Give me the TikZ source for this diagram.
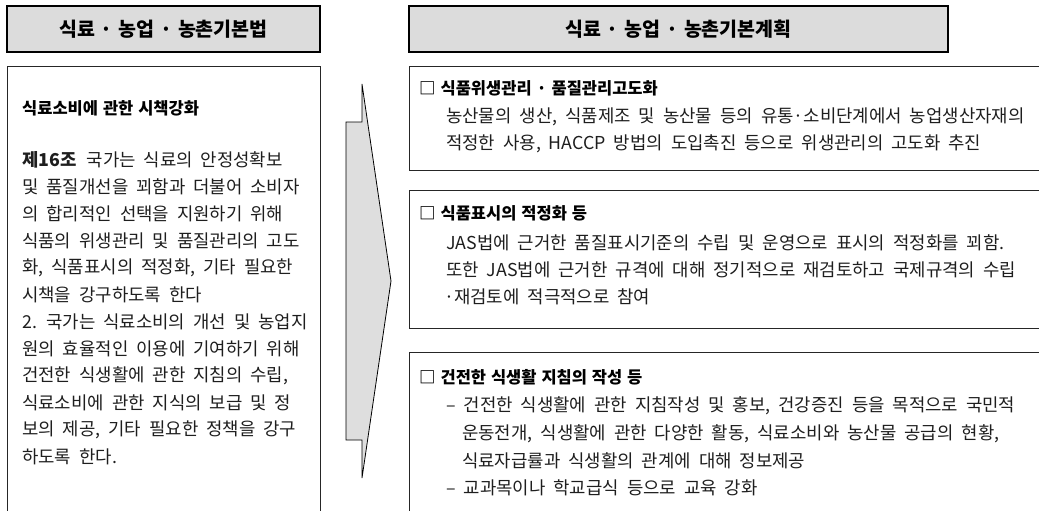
\documentclass[tikz,border=0pt]{standalone}
\usepackage{fontspec}
\setmainfont{Noto Sans CJK KR}[WordSpace=2.0]
\newfontfamily\hdrfont{Noto Sans CJK KR}[WordSpace=1.3]
\definecolor{hdrgray}{HTML}{DCDCDC}
\definecolor{arrgray}{HTML}{DEDEDE}
\definecolor{txt}{HTML}{1E1E1E}
\begin{document}
\begin{tikzpicture}[x=1pt,y=-1pt]
\useasboundingbox (0,0) rectangle (1039,511);
\clip (0,0) rectangle (1039,511);
\tikzset{
  hdr/.style={draw=black, line width=1.6pt, fill=hdrgray, minimum height=46pt, inner sep=0pt,
    font=\hdrfont\fontsize{19.5}{21}\selectfont\bfseries},
  panel/.style={draw=black!85, line width=1pt, inner sep=0pt, anchor=north west},
  body/.style={anchor=west, inner sep=0pt, text=txt, font=\fontsize{17.8}{20}\selectfont},
  head/.style={anchor=west, inner sep=0pt, text=black, font=\hdrfont\fontsize{16.5}{19}\selectfont\bfseries},
  arrowshape/.style={draw=black, line width=0.8pt, fill=arrgray, line join=miter},
}
% headers
\node[hdr, minimum width=313pt] (hL) at (163.5,29) {식료 · 농업 · 농촌기본법};
\node[hdr, minimum width=539pt] (hR) at (678.5,29) {식료 · 농업 · 농촌기본계획};
% panels
\node[panel, minimum width=313pt, minimum height=470pt] (pL) at (7,66) {};
\node[panel, minimum width=640pt, minimum height=104pt] (b1) at (409,66) {};
\node[panel, minimum width=640pt, minimum height=138pt] (b2) at (409,190) {};
\node[panel, minimum width=640pt, minimum height=180pt] (b3) at (409,352) {};
% big arrow
\draw[arrowshape] (346,122) -- (362,122) -- (362,84) -- (391,281) -- (362,478) -- (362,440) -- (346,440) -- cycle;
% left text
\node[head] (lt) at (22,108) {식료소비에 관한 시책강화};
\node[body] (l1) at (22,160) {{\bfseries 제16조}\hspace{10pt}국가는 식료의 안정성확보};
\node[body] (l2) at (22,187) {및 품질개선을 꾀함과 더불어 소비자};
\node[body] (l3) at (22,214) {의 합리적인 선택을 지원하기 위해};
\node[body] (l4) at (22,241) {식품의 위생관리 및 품질관리의 고도};
\node[body] (l5) at (22,268) {화, 식품표시의 적정화, 기타 필요한};
\node[body] (l6) at (22,295) {시책을 강구하도록 한다};
\node[body] (l7) at (22,322) {2. 국가는 식료소비의 개선 및 농업지};
\node[body] (l8) at (22,349) {원의 효율적인 이용에 기여하기 위해};
\node[body] (l9) at (22,376) {건전한 식생활에 관한 지침의 수립,};
\node[body] (l10) at (22,403) {식료소비에 관한 지식의 보급 및 정};
\node[body] (l11) at (22,430) {보의 제공, 기타 필요한 정책을 강구};
\node[body] (l12) at (22,457) {하도록 한다.};
% box 1
\node[head] (t1) at (419,88) {□ 식품위생관리 · 품질관리고도화};
\node[body] (r11) at (446,117) {농산물의 생산, 식품제조 및 농산물 등의 유통·소비단계에서 농업생산자재의};
\node[body] (r12) at (446,144) {적정한 사용, HACCP 방법의 도입촉진 등으로 위생관리의 고도화 추진};
% box 2
\node[head] (t2) at (419,213) {□ 식품표시의 적정화 등};
\node[body] (r21) at (446,243) {JAS법에 근거한 품질표시기준의 수립 및 운영으로 표시의 적정화를 꾀함.};
\node[body] (r22) at (446,270) {또한 JAS법에 근거한 규격에 대해 정기적으로 재검토하고 국제규격의 수립};
\node[body] (r23) at (444,297) {·재검토에 적극적으로 참여};
% box 3
\node[head] (t3) at (419,377) {□ 건전한 식생활 지침의 작성 등};
\node[body] (r31) at (446,406) {– 건전한 식생활에 관한 지침작성 및 홍보, 건강증진 등을 목적으로 국민적};
\node[body] (r32) at (462,434) {운동전개, 식생활에 관한 다양한 활동, 식료소비와 농산물 공급의 현황,};
\node[body] (r33) at (462,461) {식료자급률과 식생활의 관계에 대해 정보제공};
\node[body] (r34) at (446,488) {– 교과목이나 학교급식 등으로 교육 강화};
\end{tikzpicture}
\end{document}
